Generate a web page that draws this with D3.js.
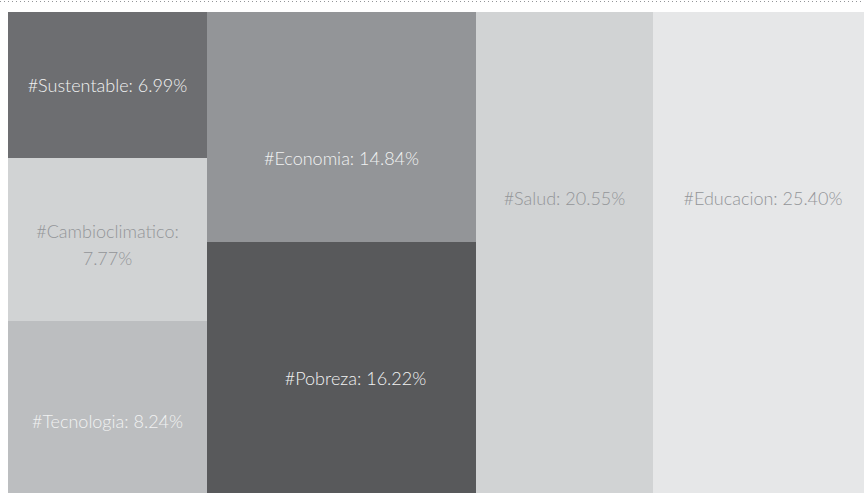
<!DOCTYPE html>
<html>
<head>
<meta charset="utf-8">
<script src="https://cdn.jsdelivr.net/npm/d3@7"></script>
<style>
  html, body { margin: 0; padding: 0; background: #fff; overflow: hidden; }
  svg { display: block; }
  .tile-label { font-family: Lato, "Open Sans", sans-serif; font-weight: 300; font-size: 18px; }
</style>
</head>
<body>
<div id="chart"></div>
<script>
// hashtag shares (percent)
const tags = ['Sustentable', 'Cambioclimatico', 'Tecnologia', 'Economia', 'Pobreza', 'Salud', 'Educacion'];
const shares = [6.99, 7.77, 8.24, 14.84, 16.22, 20.55, 25.40];
const fills = ['#6d6e71', '#d1d3d4', '#bcbec0', '#939598', '#58595b', '#d1d3d4', '#e6e7e8'];
const inks = ['#f1f2f2', '#939598', '#f1f2f2', '#f1f2f2', '#f1f2f2', '#939598', '#939598'];

// where the label sits inside its tile, as fraction of width / height
const labelSpot = [[0.5, 0.503], [0.5, 0.534], [0.5, 0.587], [0.5, 0.638], [0.552, 0.545], [0.5, 0.389], [0.5, 0.389]];

const width = 864, height = 493;
const margin = { top: 12, left: 8 };
const mapW = 865, mapH = 481;

const svg = d3.select('#chart').append('svg')
  .attr('width', width)
  .attr('height', height);

// dotted rule on top
svg.append('line')
  .attr('x1', 0).attr('x2', width)
  .attr('y1', 1.5).attr('y2', 1.5)
  .attr('stroke', '#939598')
  .attr('stroke-width', 1)
  .attr('stroke-dasharray', '1,3');

const items = tags.map((t, i) => ({ tag: t, share: shares[i], idx: i }));

const root = d3.hierarchy({ children: items })
  .sum(d => d.share || 0)
  .sort((a, b) => a.value - b.value);

d3.treemap()
  .tile(d3.treemapSquarify)
  .size([mapW, mapH])
  .round(true)(root);

const g = svg.append('g')
  .attr('transform', `translate(${margin.left},${margin.top})`);

const cell = g.selectAll('g.cell')
  .data(root.leaves())
  .enter()
  .append('g')
  .attr('class', 'cell');

cell.append('rect')
  .attr('x', d => d.x0)
  .attr('y', d => d.y0)
  .attr('width', d => d.x1 - d.x0)
  .attr('height', d => d.y1 - d.y0)
  .attr('fill', d => fills[d.data.idx]);

cell.each(function(d) {
  const i = d.data.idx;
  const w = d.x1 - d.x0, h = d.y1 - d.y0;
  const cx = d.x0 + w * labelSpot[i][0];
  const cy = d.y0 + h * labelSpot[i][1];
  const full = `#${d.data.tag}: ${d.data.share.toFixed(2)}%`;

  const text = d3.select(this).append('text')
    .attr('class', 'tile-label')
    .attr('text-anchor', 'middle')
    .attr('fill', inks[i])
    .attr('x', cx)
    .text(full);

  // wrap onto two lines when it does not fit
  let lines = [full];
  if (text.node().getComputedTextLength() > w - 24) {
    lines = [`#${d.data.tag}:`, `${d.data.share.toFixed(2)}%`];
    text.text(null);
  }
  const lh = 27;
  const first = cy - (lines.length - 1) * lh / 2;
  if (lines.length === 1) {
    text.attr('y', first).attr('dy', '0.35em');
  } else {
    lines.forEach((l, k) => {
      text.append('tspan')
        .attr('x', cx)
        .attr('y', first + k * lh)
        .attr('dy', '0.35em')
        .text(l);
    });
  }
});
</script>
</body>
</html>
